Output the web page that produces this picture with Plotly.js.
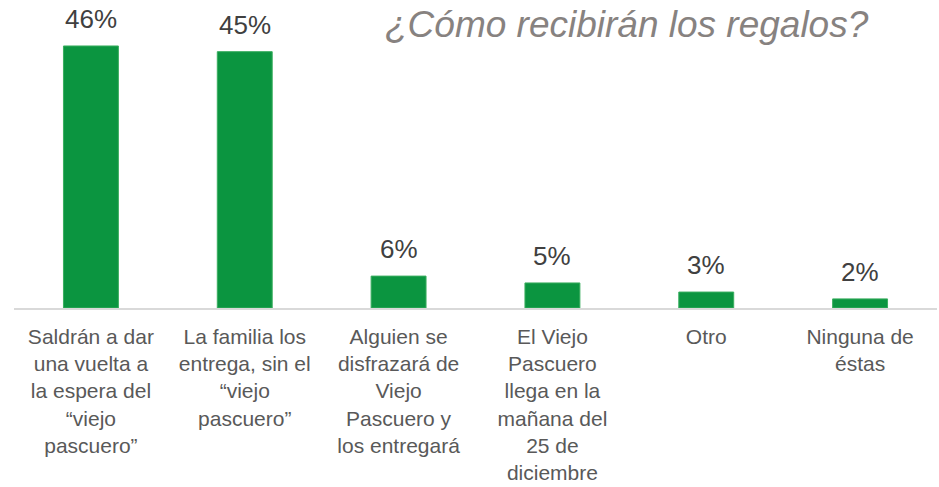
<!DOCTYPE html>
<html>
<head>
<meta charset="utf-8">
<script src="https://cdn.plot.ly/plotly-3.0.1.min.js"></script>
<style>html,body{margin:0;padding:0;background:#fff;}#chart{width:939px;height:487px;}</style>
</head>
<body>
<div id="chart"></div>
<script>
const categories = [
  "Saldrán a dar<br>una vuelta a<br>la espera del<br>“viejo<br>pascuero”",
  "La familia los<br>entrega, sin el<br>“viejo<br>pascuero”",
  "Alguien se<br>disfrazará de<br>Viejo<br>Pascuero y<br>los entregará",
  "El Viejo<br>Pascuero<br>llega en la<br>mañana del<br>25 de<br>diciembre",
  "Otro",
  "Ninguna de<br>éstas"
];
const values = [46, 45, 5.6, 4.4, 2.8, 1.6];
const valueLabels = ["46%", "45%", "6%", "5%", "3%", "2%"];
const chartTitle = "¿Cómo recibirán los regalos?";

const FONT = "Liberation Sans, Arial, sans-serif";

const trace = {
  type: "bar",
  x: categories,
  y: values,
  marker: {color: "#0b9540", line: {color: "#3aae5f", width: 1}},
  hoverinfo: "skip"
};

const annotations = categories.map((c, i) => ({
  x: c, y: values[i], xref: "x", yref: "y",
  text: valueLabels[i], showarrow: false,
  yanchor: "bottom", yshift: 10,
  font: {family: FONT, size: 26, color: "#404040"}
}));

const layout = {
  width: 939, height: 487,
  margin: {l: 13.5, r: 1.5, t: 0, b: 179},
  paper_bgcolor: "#ffffff", plot_bgcolor: "#ffffff",
  bargap: 0.643,
  showlegend: false,
  title: {
    text: chartTitle,
    font: {family: FONT, size: 37, color: "#878280", style: "italic"},
    x: 385/939, xref: "container", xanchor: "left",
    y: 1 - 24/487, yref: "container", yanchor: "middle"
  },
  xaxis: {
    showline: true, linecolor: "#d9d9d9", linewidth: 1.5,
    ticks: "", showgrid: false, zeroline: false,
    tickfont: {family: FONT, size: 21, color: "#595959"},
    ticklabelstandoff: 9
  },
  yaxis: {
    range: [0, 54.07], visible: false, showgrid: false, zeroline: false, fixedrange: true
  },
  annotations: annotations
};

Plotly.newPlot("chart", [trace], layout, {displayModeBar: false, staticPlot: true});
</script>
</body>
</html>
